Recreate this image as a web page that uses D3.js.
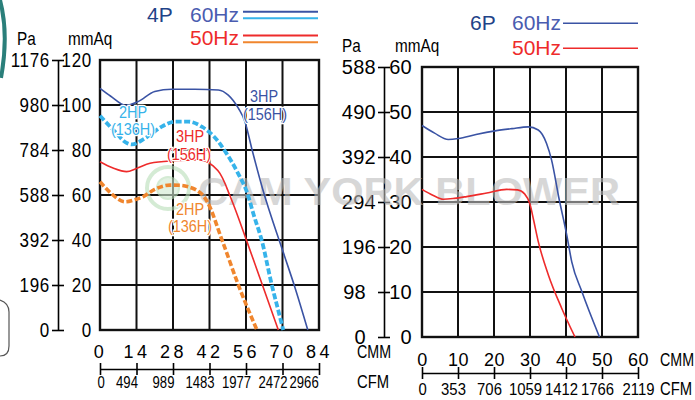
<!DOCTYPE html>
<html>
<head>
<meta charset="utf-8">
<script src="https://cdn.jsdelivr.net/npm/d3@7"></script>
<style>
  body { margin: 0; background: #fff; }
  svg { display: block; }
</style>
</head>
<body>
<div id="chart"></div>
<script>
// ---- data ----
var leftCMM  = [0, 14, 28, 42, 56, 70, 84];
var leftCFM  = [0, 494, 989, 1483, 1977, 2472, 2966];
var leftMmAq = [0, 20, 40, 60, 80, 100, 120];
var leftPa   = [0, 196, 392, 588, 784, 980, 1176];

var rightCMM  = [0, 10, 20, 30, 40, 50, 60];
var rightCFM  = [0, 353, 706, 1059, 1412, 1766, 2119];
var rightMmAq = [0, 10, 20, 30, 40, 50, 60];
var rightPa   = [0, 98, 196, 294, 392, 490, 588];

// [CMM, mmAq]
var p4_3hp_60 = [[0,107.4],[4,104],[10,99.8],[14.6,101.5],[21,106],[27.5,107],[36.4,107],[45.4,106.7],
  [49.2,104.4],[53.1,98.5],[55.6,92.6],[58.2,80.7],[62.3,63],[70.3,34.5],[74.8,18.8],[79.7,0]];
var p4_2hp_60 = [[0,95.2],[5.8,88.1],[10,83.3],[12.2,82.5],[17.3,85.2],[23.7,90.4],[28.8,92.6],[33.9,92.6],
  [39,90.4],[45.4,83.7],[48.5,78.5],[50.5,74.8],[53,69.5],[56.3,61.5],[59,51],[62,40],[66,19.5],[68.2,9.5],[70.3,0]];
var p4_3hp_50 = [[0,74.8],[5,72],[10.2,70.4],[14,71.8],[19.2,74.1],[28,75.2],[38.4,75.6],[40.9,74.8],
  [43.5,72.8],[46,69.6],[48,65],[49.2,61.5],[51.1,56],[56.3,39.5],[62.6,19],[68.4,0]];
var p4_2hp_50 = [[0,65.9],[4,61],[9.6,57],[13,57.8],[16.6,59.3],[21,62.5],[26.9,64.4],[31,64.3],[34.5,63.4],
  [36.5,62.5],[39,60.4],[41,57.3],[46.8,40],[53.3,19.3],[60.2,0]];

var p6_60 = [[0,47],[3.5,45.3],[7.3,43.9],[10.1,44.1],[15,45],[20.3,45.8],[25,46.3],[29.5,46.7],[32.3,46],
  [34.6,43],[36,39.3],[38,31],[40.2,22.7],[41.6,16.7],[44.4,10.1],[49.3,0]];
var p6_50 = [[0,32.8],[3,31.5],[5.9,30.6],[9,30.8],[12.4,31.2],[18,32],[23.5,32.8],[26.5,32.7],[28.5,31.8],
  [30,29.5],[31,26],[32.3,21.2],[35.1,13.8],[38.8,6.4],[42.5,0]];

// ---- colours / fonts ----
var navy = '#1f4388', blue = '#3a53a4', cyan = '#36b3ea', red = '#ee2b2b', orange = '#f0862e';
var sans = '"Liberation Sans", Arial, sans-serif';

var svg = d3.select('#chart').append('svg')
  .attr('width', 695)
  .attr('height', 400)
  .style('background', '#fff');

// squeezed text helper (narrow look)
function sText(x, y, str, fs, sx, color) {
  return svg.append('text')
    .attr('transform', 'translate(' + x + ',' + y + ') scale(' + sx + ',1)')
    .attr('font-family', sans).attr('font-size', fs)
    .attr('fill', color || '#000')
    .text(str);
}

// left edge decorations
svg.append('path').attr('d', 'M0,0 Q9,34 1,78')
  .attr('fill', 'none').attr('stroke', '#2a7f7a').attr('stroke-width', 4);
svg.append('path').attr('d', 'M0,300 Q9,303 9,312 L9,346 Q9,356 0,356')
  .attr('fill', 'none').attr('stroke', '#555').attr('stroke-width', 1.2);

var panels = [
  { x0: 100, x1: 319, yb: 330, yt: 60, cmm: leftCMM, cfm: leftCFM, mm: leftMmAq, pa: leftPa,
    axisX: 58, mmRight: 92, ySx: 0.85, yLs: 0.8, shortPad: 0,
    cmmPad: 15, cmmLs: 3.5, cfmY: 369, cfmPad: 2, cfmSx: 0.82, cfmMid: -10, cfmFirst: -3, lastEnd: true,
    unitX: 357, cmmBase: 358, cfmBase: 388, headY: 45, paX: 17, mmX: 68 },
  { x0: 422, x1: 638, yb: 337, yt: 67, cmm: rightCMM, cfm: rightCFM, mm: rightMmAq, pa: rightPa,
    axisX: 384, mmRight: 412, ySx: 1, yLs: 0.3, shortPad: 10,
    cmmPad: 16, cmmLs: 0.5, cfmY: 373, cfmPad: 4.5, cfmSx: 0.93, cfmMid: -5, cfmFirst: -4, lastEnd: false,
    unitX: 660, cmmBase: 366, cfmBase: 395, headY: 52, paX: 342, mmX: 395 }
];

panels.forEach(function (p) {
  p.x = d3.scaleLinear().domain([p.cmm[0], p.cmm[p.cmm.length - 1]]).range([p.x0, p.x1]);
  p.y = d3.scaleLinear().domain([p.mm[0], p.mm[p.mm.length - 1]]).range([p.yb, p.yt]);

  var g = svg.append('g');

  // grid
  g.selectAll('.vg').data(p.cmm).enter().append('line')
    .attr('x1', function (d) { return p.x(d); }).attr('x2', function (d) { return p.x(d); })
    .attr('y1', p.yt).attr('y2', p.yb)
    .attr('stroke', '#111').attr('stroke-width', 2);
  g.selectAll('.hg').data(p.mm).enter().append('line')
    .attr('y1', function (d) { return p.y(d); }).attr('y2', function (d) { return p.y(d); })
    .attr('x1', p.x0).attr('x2', p.x1)
    .attr('stroke', '#111').attr('stroke-width', 2);
  g.append('rect').attr('x', p.x0).attr('y', p.yt)
    .attr('width', p.x1 - p.x0).attr('height', p.yb - p.yt)
    .attr('fill', 'none').attr('stroke', '#111').attr('stroke-width', 2.4);

  // Pa axis (left labels)
  var gPa = svg.append('g').attr('transform', 'translate(' + p.axisX + ',0)')
    .call(d3.axisLeft(p.y).tickValues(p.mm).tickFormat(function (d, i) { return p.pa[i]; })
      .tickSize(6).tickSizeOuter(0).tickPadding(2));
  gPa.attr('font-family', sans).attr('font-size', 20);
  gPa.selectAll('text').attr('fill', '#000').style('letter-spacing', p.yLs + 'px')
    .attr('transform', 'scale(' + p.ySx + ',1)')
    .attr('x', function (d, i) { return (-8 - (p.pa[i] < 100 ? p.shortPad : 0)) / p.ySx; });
  gPa.selectAll('line, path').attr('stroke', '#000').attr('stroke-width', 1.6);

  // mmAq axis (right-aligned labels next to the same line)
  var gMm = svg.append('g').attr('transform', 'translate(' + p.axisX + ',0)')
    .call(d3.axisRight(p.y).tickValues(p.mm).tickSize(6).tickSizeOuter(0));
  gMm.attr('font-family', sans).attr('font-size', 20);
  gMm.select('.domain').remove();
  gMm.selectAll('text').attr('fill', '#000')
    .attr('transform', 'scale(' + p.ySx + ',1)')
    .attr('x', (p.mmRight - p.axisX) / p.ySx)
    .attr('text-anchor', 'end').style('letter-spacing', p.yLs + 'px');
  gMm.selectAll('line').attr('stroke', '#000').attr('stroke-width', 1.6);

  // CMM labels
  var gC = svg.append('g').attr('transform', 'translate(0,' + p.yb + ')')
    .call(d3.axisBottom(p.x).tickValues(p.cmm).tickSize(0).tickPadding(p.cmmPad));
  gC.select('.domain').remove();
  gC.attr('font-family', sans).attr('font-size', 18);
  gC.selectAll('text').attr('fill', '#000').style('letter-spacing', p.cmmLs + 'px');

  // CFM axis
  var n = p.cfm.length;
  var gF = svg.append('g').attr('transform', 'translate(0,' + p.cfmY + ')')
    .call(d3.axisBottom(p.x).tickValues(p.cmm).tickFormat(function (d, i) { return p.cfm[i]; })
      .tickSize(6).tickSizeOuter(0).tickPadding(p.cfmPad));
  gF.attr('font-family', sans).attr('font-size', 16);
  gF.selectAll('line').attr('y1', -6).attr('stroke', '#000').attr('stroke-width', 1.6);
  gF.select('.domain').attr('stroke', '#000').attr('stroke-width', 1.6);
  gF.selectAll('text').attr('fill', '#000')
    .attr('transform', 'scale(' + p.cfmSx + ',1)')
    .attr('x', function (d, i) { return (i === n - 1 && p.lastEnd ? -1 : 0); })
    .attr('text-anchor', function (d, i) { return i === 0 ? 'start' : (i === n - 1 && p.lastEnd ? 'end' : 'middle'); })
    .attr('dx', function (d, i) { return (i === 0 ? p.cfmFirst : (i === n - 1 ? 0 : p.cfmMid)) / p.cfmSx; });

  // unit labels
  sText(p.unitX, p.cmmBase, 'CMM', 19, 0.75);
  sText(p.unitX, p.cfmBase, 'CFM', 19, 0.78);
  sText(p.paX, p.headY, 'Pa', 18, 0.85);
  sText(p.mmX, p.headY, 'mmAq', 18, 0.85);
});

// watermark
var wm = svg.append('g').attr('opacity', 0.6);
wm.append('circle').attr('cx', 168).attr('cy', 188).attr('r', 21)
  .attr('fill', 'none').attr('stroke', '#b9deb9').attr('stroke-width', 4);
wm.append('circle').attr('cx', 168).attr('cy', 188).attr('r', 11)
  .attr('fill', '#cfe9cf').attr('stroke', '#b9deb9').attr('stroke-width', 2);
wm.append('text').attr('x', 198).attr('y', 205).text('CAM YORK BLOWER')
  .attr('font-family', sans).attr('font-weight', 'bold').attr('font-size', 39)
  .attr('textLength', 422).attr('lengthAdjust', 'spacingAndGlyphs')
  .attr('fill', '#bdbdbd');

// curves
function drawCurve(p, data, color, width, dash) {
  var line = d3.line()
    .x(function (d) { return p.x(d[0]); })
    .y(function (d) { return p.y(d[1]); })
    .curve(d3.curveMonotoneX);
  svg.append('path').datum(data)
    .attr('d', line)
    .attr('fill', 'none')
    .attr('stroke', color)
    .attr('stroke-width', width)
    .attr('stroke-dasharray', dash || null)
    .attr('stroke-linejoin', 'round');
}
var L = panels[0], R = panels[1];
drawCurve(L, p4_2hp_50, orange, 3.6, '6,2.5');
drawCurve(L, p4_3hp_50, red, 1.6);
drawCurve(L, p4_2hp_60, cyan, 3.8, '6,2.5');
drawCurve(L, p4_3hp_60, blue, 1.6);
drawCurve(R, p6_50, red, 1.6);
drawCurve(R, p6_60, blue, 1.6);

// curve labels
var curveLabels = [
  { t: '3HP', x: 264, y: 96, c: blue }, { t: '(156H)', x: 265, y: 114, c: blue },
  { t: '2HP', x: 133, y: 112, c: cyan }, { t: '(136H)', x: 133, y: 129, c: cyan },
  { t: '3HP', x: 190, y: 136, c: red }, { t: '(156H)', x: 189, y: 154, c: red },
  { t: '2HP', x: 190, y: 209, c: orange }, { t: '(136H)', x: 190, y: 226, c: orange }
];
svg.selectAll('.clab').data(curveLabels).enter().append('text')
  .attr('transform', function (d) { return 'translate(' + d.x + ',' + d.y + ') scale(0.85,1)'; })
  .attr('dy', '0.36em')
  .attr('text-anchor', 'middle')
  .attr('font-family', sans).attr('font-size', 17)
  .attr('fill', function (d) { return d.c; })
  .attr('stroke', '#fff').attr('stroke-width', 2.5).attr('paint-order', 'stroke')
  .text(function (d) { return d.t; });

// legends
function legend(tag, tx, hzx, lx1, lx2, rows) {
  svg.append('text').attr('x', tx).attr('y', rows[0].base).text(tag)
    .attr('font-family', sans).attr('font-size', 21).attr('fill', navy);
  rows.forEach(function (r) {
    svg.append('text').attr('x', hzx).attr('y', r.base).text(r.label)
      .attr('font-family', sans).attr('font-size', 21).attr('fill', r.tc);
    r.lines.forEach(function (l) {
      svg.append('line').attr('x1', lx1).attr('x2', lx2).attr('y1', l.y).attr('y2', l.y)
        .attr('stroke', l.c).attr('stroke-width', l.w);
    });
  });
}
legend('4P', 147, 190, 243, 318, [
  { label: '60Hz', base: 22, tc: '#4a5cb0', lines: [{ y: 11.7, c: blue, w: 2 }, { y: 18.3, c: cyan, w: 2 }] },
  { label: '50Hz', base: 45, tc: red, lines: [{ y: 35.5, c: red, w: 2 }, { y: 42.3, c: orange, w: 2 }] }
]);
legend('6P', 470, 512, 563, 638, [
  { label: '60Hz', base: 30, tc: '#4a5cb0', lines: [{ y: 23.3, c: blue, w: 1.5 }] },
  { label: '50Hz', base: 55, tc: red, lines: [{ y: 48.3, c: red, w: 1.5 }] }
]);
</script>
</body>
</html>
